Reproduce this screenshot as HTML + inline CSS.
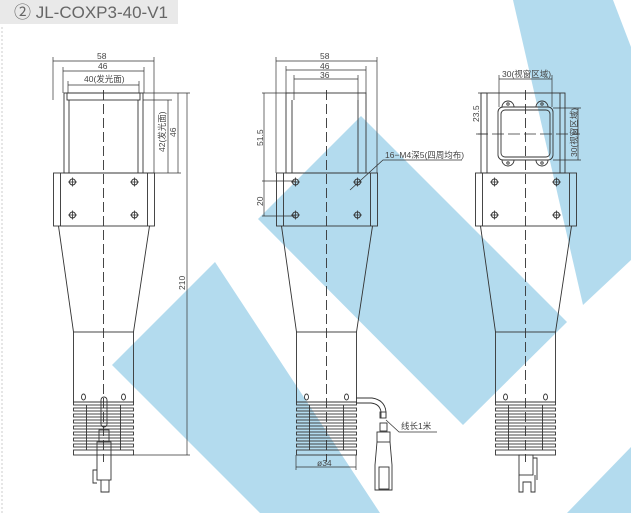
<!DOCTYPE html>
<html><head><meta charset="utf-8"><style>
body{margin:0;background:#fff;width:631px;height:513px;overflow:hidden}
svg{display:block}
text{font-family:"Liberation Sans","Noto Sans CJK SC",sans-serif;fill:#444}
</style></head><body>
<svg width="631" height="513" viewBox="0 0 631 513" xmlns="http://www.w3.org/2000/svg">
<defs>
<g id="hole"><circle r="3" fill="none" stroke="#333" stroke-width="1"/><path d="M-4.5 0H4.5M0 -4.5V4.5" stroke="#333" stroke-width="0.8"/></g>
<g id="lower" fill="none" stroke="#333" stroke-width="0.9">
<rect x="-50" y="173" width="101" height="53"/>
<path d="M-43 173V226M44 173V226"/>
<use href="#hole" x="-31" y="182"/><use href="#hole" x="31" y="182"/>
<use href="#hole" x="-31" y="215"/><use href="#hole" x="31" y="215"/>
<path d="M-45 226L-30 332M46 226L30 332"/>
<rect x="-30" y="332" width="60" height="70"/>
<ellipse cx="-20" cy="397" rx="2" ry="3"/><ellipse cx="20" cy="397" rx="2" ry="3"/>
<rect x="-30" y="402" width="60" height="3"/>
<rect x="-30" y="408" width="60" height="3"/>
<rect x="-30" y="414" width="60" height="3"/>
<rect x="-30" y="420" width="60" height="3"/>
<rect x="-30" y="426" width="60" height="3"/>
<rect x="-30" y="432" width="60" height="3"/>
<rect x="-30" y="438" width="60" height="3"/>
<rect x="-30" y="444" width="60" height="3"/>
<rect x="-30" y="450" width="60" height="5"/>
<path d="M-17 405V450M17 405V450"/>
<path d="M0 90V462" stroke-dasharray="10,4" stroke-width="0.9"/>
</g>
</defs>
<!-- blue watermark -->
<g fill="#b3dbee">
<polygon points="258,219 361,116 567,322 463,425"/>
<polygon points="112,365 215,262 380,513 260,513"/>
<polygon points="513,0 613,0 631,47 631,260 583,305"/>
<polygon points="631,447 567,513 631,513"/>
</g>
<!-- title -->
<rect x="0" y="0" width="178" height="24" fill="#e9e9e9"/>
<text x="14" y="18" font-size="17" style="fill:#666">② JL-COXP3-40-V1</text>
<line x1="2" y1="27" x2="2" y2="513" stroke="#ccc" stroke-dasharray="2,2"/>

<g stroke="#333" fill="none" stroke-width="0.9">
<!-- LEFT VIEW -->
<use href="#lower" x="103.5"/>
<rect x="64" y="93" width="79" height="80"/>
<path d="M69 100V173M138 100V173"/>
<rect x="67" y="93" width="73" height="7"/>
<!-- connector left -->
<rect x="101" y="397" width="6" height="30" rx="3"/>
<rect x="99" y="430" width="10" height="12"/>
<rect x="97" y="442" width="14" height="38"/>
<path d="M97 470H93V483H97M101 480V492H109V480"/>
<!-- left dims -->
<path d="M53 61H154M53 57V100M154 57V173M63 71H144M63 67V93M144 67V93M68 85H139M68 81V93M139 81V93" stroke-width="0.7"/>
<path d="M143 93H190M143 100H172M143 173H181M168 100V173M178 93V173M187 93V455M133 455H190" stroke-width="0.7"/>
<!-- MIDDLE VIEW -->
<use href="#lower" x="326.5"/>
<rect x="286" y="93" width="80" height="80"/>
<path d="M292 100V173M358 100V173"/>
<path d="M276 61H377M276 57V173M377 57V173M286 70H366M286 66V93M366 66V93M294 79H358M294 75V100M358 75V100" stroke-width="0.7"/>
<path d="M262 93H290M264 93V216M262 181H295M262 216H295" stroke-width="0.7"/>
<path d="M350 190L383 160H462" stroke-width="0.7"/>
<path d="M296 467H356M296 455V470M356 455V470" stroke-width="0.7"/>
<!-- cable -->
<path d="M356 398H372Q385 400 386 412V418M356 403H371Q380 404 381 412V418"/>
<rect x="380" y="412" width="6" height="6"/>
<rect x="380" y="423" width="7" height="8"/>
<rect x="377" y="432" width="13" height="10"/>
<path d="M377 442L375 465V490H392V465L390 442"/>
<rect x="379" y="467" width="10" height="22"/>
<path d="M386 420L399 432H437" stroke-width="0.7"/>
<!-- RIGHT VIEW -->
<use href="#lower" x="525.5"/>
<rect x="481" y="93" width="84" height="80"/>
<path d="M487 93V173M560 93V173"/>
<rect x="498" y="107" width="55" height="53" rx="5"/>
<rect x="501" y="110" width="49" height="47" rx="4"/>
<path d="M502 107A6 6 0 0 1 514 107M536 107A6 6 0 0 1 548 107M502 160A6 6 0 0 0 514 160M536 160A6 6 0 0 0 548 160"/>
<circle cx="508" cy="104" r="1.2"/><circle cx="542" cy="104" r="1.2"/><circle cx="508" cy="163" r="1.2"/><circle cx="542" cy="163" r="1.2"/>
<path d="M476 134H580" stroke-dasharray="12,4" stroke-width="0.8"/>
<path d="M499 79H552M499 75V107M552 75V107M578 108V160M553 108H581M553 160H581M481 93V134M478 93H487M478 134H487" stroke-width="0.7"/>
<rect x="519" y="455" width="14" height="20"/>
<path d="M519 475V492H523V482H531V492H535V475M533 458H537V480"/>
</g>
<g font-size="8.5">
<text x="97" y="59">58</text><text x="98" y="69">46</text>
<text x="84" y="82">40(发光面)</text>
<text transform="translate(165,152) rotate(-90)">42(发光面)</text>
<text transform="translate(176,137) rotate(-90)">46</text>
<text transform="translate(185,290) rotate(-90)">210</text>
<text x="320" y="59">58</text><text x="320" y="69">46</text><text x="320" y="78">36</text>
<text transform="translate(263,146) rotate(-90)">51.5</text>
<text transform="translate(263,206) rotate(-90)">20</text>
<text x="385" y="158">16−M4深5(四周均布)</text>
<text x="317" y="466">ø34</text>
<text x="401" y="429">线长1米</text>
<text x="502" y="77">30(视窗区域)</text>
<text transform="translate(479,122) rotate(-90)">23.5</text>
<text transform="translate(577,157) rotate(-90)">30(视窗区域)</text>
</g>
</svg>
</body></html>
